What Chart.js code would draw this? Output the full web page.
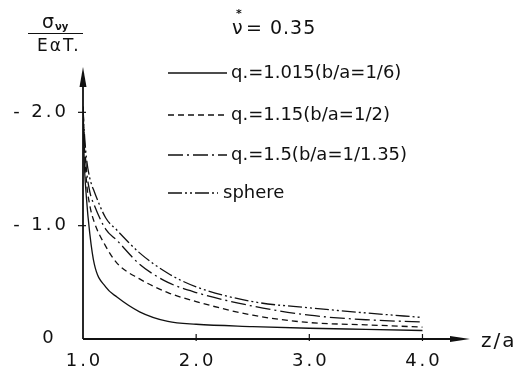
<!DOCTYPE html>
<html>
<head>
    <meta charset="UTF-8">
    <title>Thermal stress along z/a</title>
    <style>
        body {
            margin: 0;
            padding: 0;
            background: #fff;
        }
        #box {
            width: 520px;
            height: 374px;
            position: relative;
        }
    </style>
</head>
<body>
    <div id="box">
        <canvas id="stressChart" width="520" height="374"></canvas>
    </div>

    <script src="https://cdn.jsdelivr.net/npm/chart.js"></script>
    <script>
        // z/a positions shared by all curves
        const zValues = [1.0, 1.01, 1.03, 1.06, 1.1, 1.2, 1.3, 1.5, 1.75, 2.0, 2.5, 3.0, 3.5, 4.0];

        // sigma_vy / (E alpha T0)
        const q1015 = [2.05, 1.6, 1.25, 0.93, 0.66, 0.46, 0.37, 0.24, 0.155, 0.13, 0.11, 0.095, 0.085, 0.075];
        const q115 = [2.05, 1.75, 1.4, 1.18, 1.03, 0.82, 0.67, 0.53, 0.41, 0.33, 0.21, 0.145, 0.125, 0.105];
        const q15 = [2.05, 1.8, 1.5, 1.3, 1.18, 0.97, 0.87, 0.66, 0.5, 0.41, 0.29, 0.21, 0.17, 0.15];
        const sphere = [2.05, 1.85, 1.6, 1.42, 1.3, 1.07, 0.96, 0.76, 0.58, 0.46, 0.33, 0.275, 0.23, 0.19];

        const seriesLabels = ['q.=1.015(b/a=1/6)', 'q.=1.15(b/a=1/2)', 'q.=1.5(b/a=1/1.35)', 'sphere'];

        const xTickVals = [1, 2, 3, 4];
        const xTickLabels = ['1.0', '2.0', '3.0', '4.0'];
        const yTickVals = [0, 1, 2];
        const yTickLabels = ['0', '- 1.0', '- 2.0'];

        const ink = '#111';
        const dashes = [[], [6, 4], [15, 4, 2, 4], [14, 3, 2, 3, 2, 3]];
        const face = '"DejaVu Sans", sans-serif';

        function toPoints(vals) {
            return zValues.map((z, i) => ({ x: z, y: vals[i] }));
        }

        // text with letter spacing, placed by its left edge
        function spaced(ctx, txt, x, y, gap) {
            ctx.letterSpacing = gap + 'px';
            ctx.fillText(txt, x, y);
            ctx.letterSpacing = '0px';
        }
        function spacedWidth(ctx, txt, gap) {
            ctx.letterSpacing = '0px';
            return ctx.measureText(txt).width + gap * (txt.length - 1);
        }

        // axes with arrows, ticks, labels and the legend block
        const drawing = {
            id: 'drawing',
            afterDraw(chart) {
                const ctx = chart.ctx;
                const xs = chart.scales.x;
                const ys = chart.scales.y;
                const area = chart.chartArea;
                const x0 = xs.getPixelForValue(1);
                const y0 = ys.getPixelForValue(0);

                ctx.save();
                ctx.strokeStyle = ink;
                ctx.fillStyle = ink;
                ctx.lineWidth = 1.8;

                // y axis + arrow
                ctx.beginPath();
                ctx.moveTo(x0, y0);
                ctx.lineTo(x0, area.top + 12);
                ctx.stroke();
                ctx.beginPath();
                ctx.moveTo(x0, area.top);
                ctx.lineTo(x0 - 3.5, area.top + 20);
                ctx.lineTo(x0 + 3.5, area.top + 20);
                ctx.closePath();
                ctx.fill();

                // x axis + arrow
                ctx.beginPath();
                ctx.moveTo(x0, y0);
                ctx.lineTo(area.right - 12, y0);
                ctx.stroke();
                ctx.beginPath();
                ctx.moveTo(area.right, y0);
                ctx.lineTo(area.right - 20, y0 - 3);
                ctx.lineTo(area.right - 20, y0 + 3);
                ctx.closePath();
                ctx.fill();

                // tick marks
                ctx.lineWidth = 1.2;
                xTickVals.forEach(v => {
                    if (v === 1) return;
                    const px = xs.getPixelForValue(v);
                    ctx.beginPath();
                    ctx.moveTo(px, y0 - 5);
                    ctx.lineTo(px, y0 + 2);
                    ctx.stroke();
                });
                yTickVals.forEach(v => {
                    if (v === 0) return;
                    const py = ys.getPixelForValue(v);
                    ctx.beginPath();
                    ctx.moveTo(x0 - 5, py);
                    ctx.lineTo(x0 + 3, py);
                    ctx.stroke();
                });

                // tick labels
                ctx.textBaseline = 'middle';
                ctx.textAlign = 'left';
                ctx.font = '18px ' + face;
                xTickVals.forEach((v, i) => {
                    const w = spacedWidth(ctx, xTickLabels[i], 3);
                    spaced(ctx, xTickLabels[i], xs.getPixelForValue(v) - w / 2, y0 + 22, 3);
                });
                yTickVals.forEach((v, i) => {
                    const py = ys.getPixelForValue(v);
                    const w = spacedWidth(ctx, yTickLabels[i], 3);
                    if (v === 0) {
                        spaced(ctx, yTickLabels[i], 48 - w / 2, py - 1, 3);
                    } else {
                        spaced(ctx, yTickLabels[i], 66 - w, py, 3);
                    }
                });

                // axis titles
                ctx.font = '20px ' + face;
                spaced(ctx, 'z/a', 481, y0 + 3, 2);

                ctx.font = '19px ' + face;
                ctx.fillText('σ', 42, 23);
                ctx.font = 'bold 10px ' + face;
                ctx.fillText('νy', 55, 27);
                ctx.lineWidth = 1.2;
                ctx.beginPath();
                ctx.moveTo(28, 33.5);
                ctx.lineTo(83, 33.5);
                ctx.stroke();
                ctx.font = '17px ' + face;
                spaced(ctx, 'EαT.', 37, 47, 2);

                // nu* = 0.35
                ctx.font = '19px ' + face;
                ctx.fillText('ν', 232, 29);
                spaced(ctx, '= 0.35', 246, 29, 1);
                ctx.font = 'bold 11px ' + face;
                ctx.fillText('*', 236, 14);

                // legend
                const rows = [73, 115, 155, 193];
                ctx.font = '18px ' + face;
                seriesLabels.forEach((lab, i) => {
                    const y = rows[i];
                    ctx.lineWidth = 1.3;
                    ctx.setLineDash(dashes[i]);
                    ctx.beginPath();
                    ctx.moveTo(168, y);
                    ctx.lineTo(i === 3 ? 218 : 227, y);
                    ctx.stroke();
                    ctx.setLineDash([]);
                    ctx.fillText(lab, i === 3 ? 223 : 231, y);
                });

                ctx.restore();
            }
        };

        const ctx = document.getElementById('stressChart').getContext('2d');
        const stressChart = new Chart(ctx, {
            type: 'line',
            data: {
                datasets: [q1015, q115, q15, sphere].map((vals, i) => ({
                    label: seriesLabels[i],
                    data: toPoints(vals),
                    borderColor: ink,
                    borderWidth: 1.3,
                    borderDash: dashes[i],
                    pointRadius: 0,
                    fill: false,
                    cubicInterpolationMode: 'monotone'
                }))
            },
            options: {
                responsive: false,
                animation: false,
                layout: {
                    padding: { left: 83, top: 67, right: 50, bottom: 35 }
                },
                plugins: {
                    legend: { display: false },
                    tooltip: { enabled: false }
                },
                scales: {
                    x: {
                        type: 'linear',
                        display: false,
                        min: 1,
                        max: 4.42
                    },
                    y: {
                        type: 'linear',
                        display: false,
                        min: 0,
                        max: 2.4
                    }
                }
            },
            plugins: [drawing]
        });
    </script>
</body>
</html>
